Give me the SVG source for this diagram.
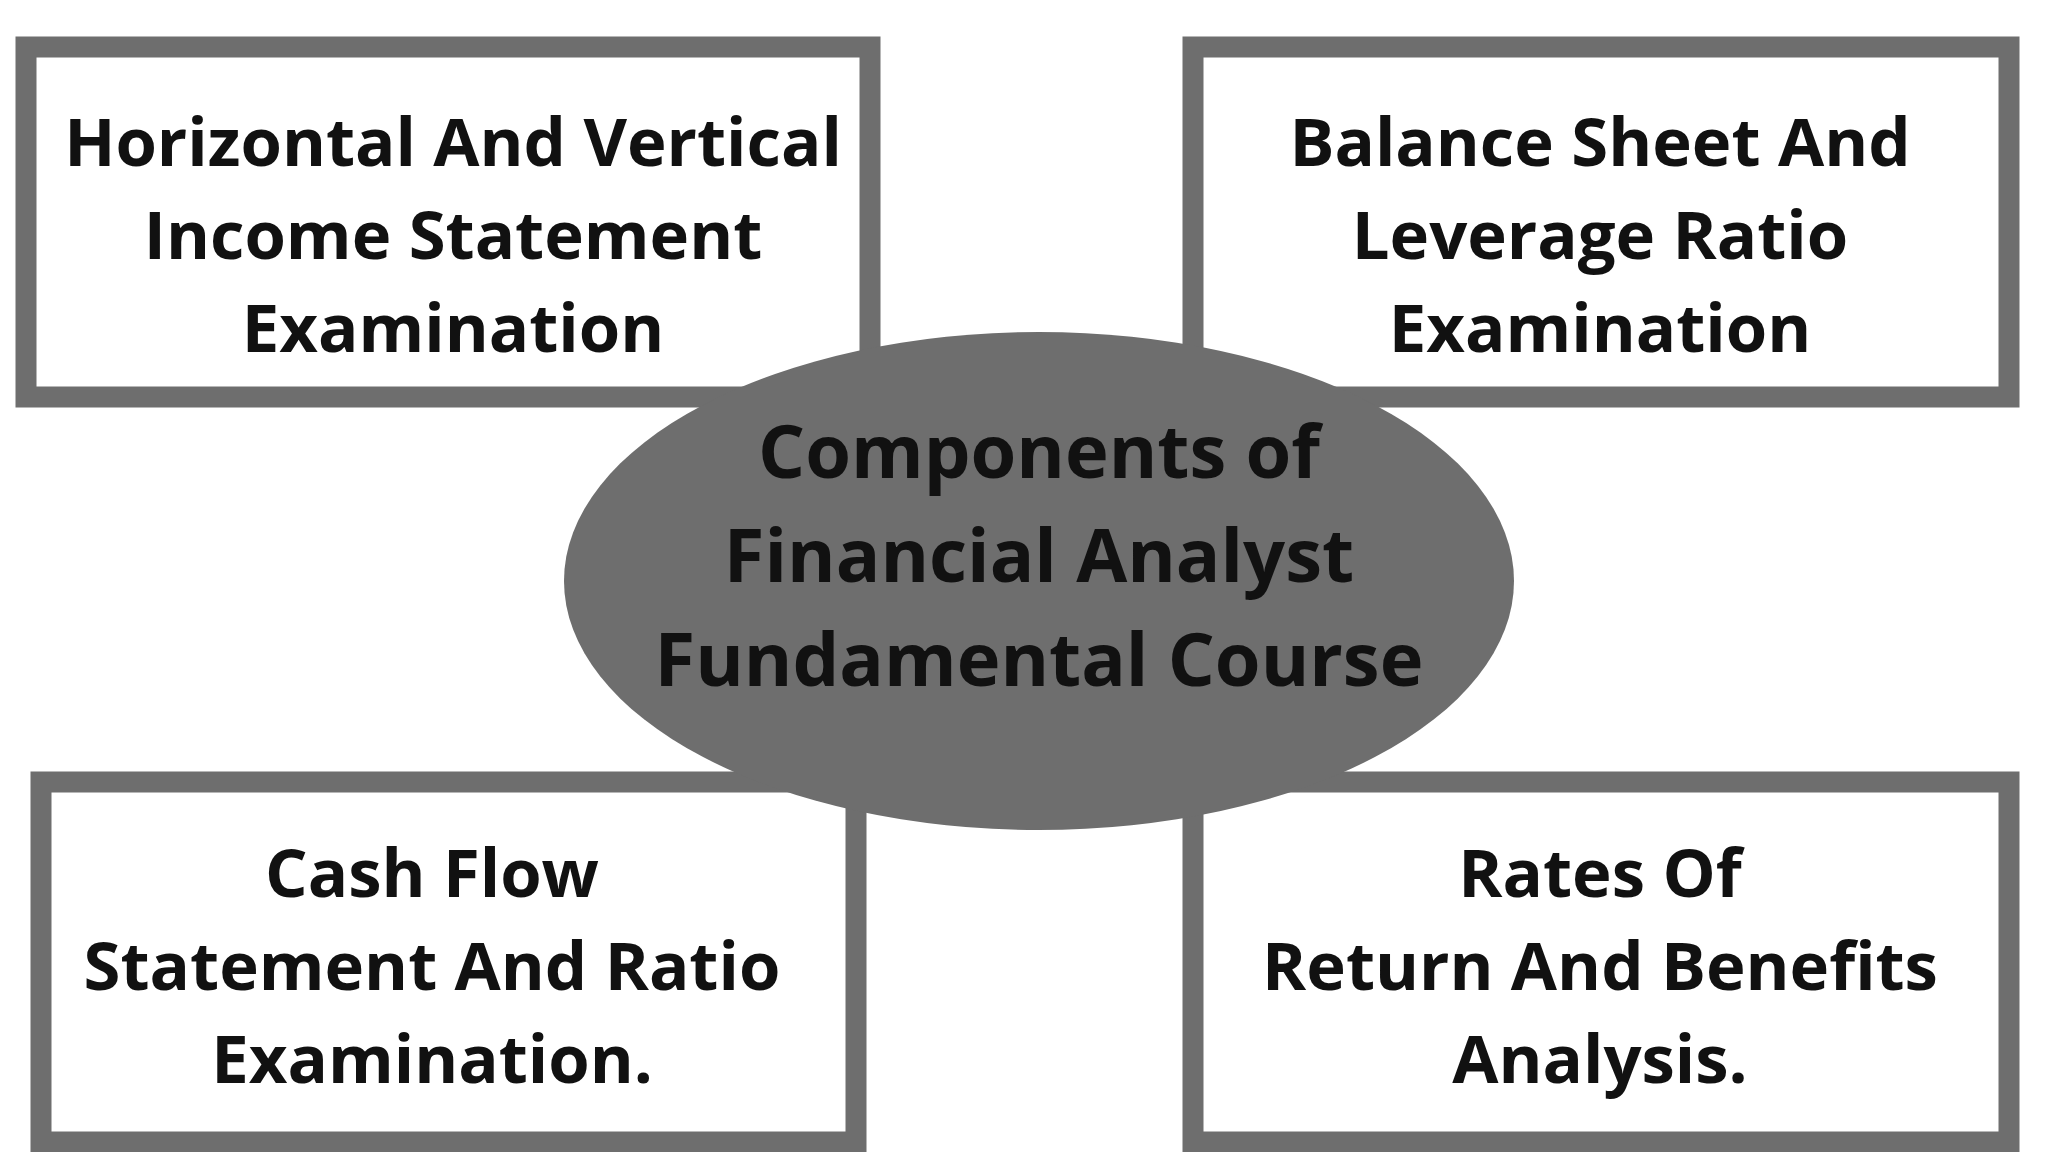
<svg xmlns="http://www.w3.org/2000/svg" width="2048" height="1152" viewBox="0 0 2048 1152">
<style>
.box{fill:#fff;stroke:#6e6e6e;stroke-width:21}
.t{font-family:"Open Sans","Noto Sans",sans-serif;font-weight:bold;font-size:67px;fill:#111;text-anchor:middle}
.c{font-size:74px}
</style>
<rect width="2048" height="1152" fill="#fff"/>
<g id="n1"><rect class="box" x="26" y="47" width="844" height="350"/>
<text class="t" x="453" y="166">Horizontal And Vertical</text><text class="t" x="453" y="259">Income Statement</text><text class="t" x="453" y="352">Examination</text></g>
<g id="n2"><rect class="box" x="1193" y="47" width="816" height="350"/>
<text class="t" x="1600" y="166">Balance Sheet And</text><text class="t" x="1600" y="259">Leverage Ratio</text><text class="t" x="1600" y="352">Examination</text></g>
<g id="n3"><rect class="box" x="41" y="782" width="815" height="360"/>
<text class="t" x="432" y="897">Cash Flow</text><text class="t" x="432" y="990">Statement And Ratio</text><text class="t" x="432" y="1083">Examination.</text></g>
<g id="n4"><rect class="box" x="1193" y="782" width="816" height="360"/>
<text class="t" x="1600" y="897">Rates Of</text><text class="t" x="1600" y="990">Return And Benefits</text><text class="t" x="1600" y="1083">Analysis.</text></g>
<g id="center"><ellipse cx="1039" cy="581" rx="475" ry="249" fill="#6e6e6e"/>
<text class="t c" x="1039" y="478">Components of</text><text class="t c" x="1039" y="582">Financial Analyst</text><text class="t c" x="1039" y="686">Fundamental Course</text></g>
<g id="connectors"/>
</svg>
